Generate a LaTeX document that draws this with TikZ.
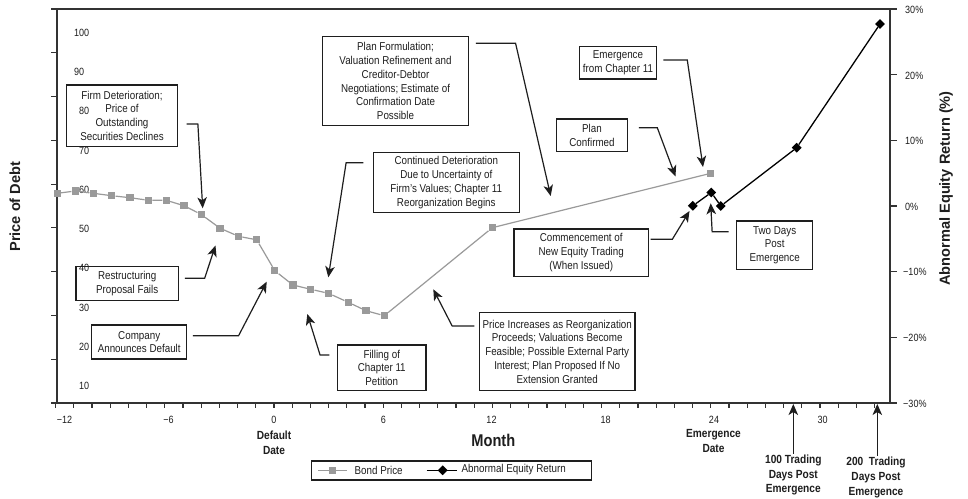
\documentclass[tikz,border=0pt]{standalone}
\usepackage{fontspec}
\setmainfont[FakeStretch=0.86]{Liberation Sans}
\newfontfamily\titlefont{Liberation Sans}
\usetikzlibrary{arrows.meta,shapes.geometric}
\definecolor{ink}{HTML}{1E1E1E}
\definecolor{axisgray}{HTML}{333333}
\definecolor{bondgray}{HTML}{9A9A9A}
\begin{document}
\begin{tikzpicture}[x=1pt,y=-1pt,
  ann/.style={draw=ink, line width=1.15pt, align=center, inner sep=0pt,
    font=\fontsize{11.4}{13.8}\selectfont, text=ink},
  conn/.style={draw=ink, line width=1.2pt, -{Stealth[length=11pt,width=9.5pt,inset=3pt]}},
  axisline/.style={draw=axisgray, line width=1.7pt},
  tickline/.style={draw=axisgray, line width=1.1pt},
  bondline/.style={draw=bondgray, line width=1.2pt},
  eqline/.style={draw=black, line width=1.3pt},
  sqmark/.style={fill=bondgray, rectangle, minimum size=7.3pt, inner sep=0pt, draw=none},
  diamark/.style={fill=black, diamond, minimum width=10pt, minimum height=10pt, inner sep=0pt, draw=none},
  ticklab/.style={font=\fontsize{10.5}{12}\selectfont, text=ink, inner sep=0pt},
  boldlab/.style={font=\fontsize{11.8}{14.6}\selectfont\bfseries, align=center, text=ink, inner sep=0pt},
  titlelab/.style={font=\titlefont\fontsize{14.6}{16}\selectfont\bfseries, text=ink, inner sep=0pt}
]
\useasboundingbox (0,0) rectangle (968,498);
\fill[white] (0,0) rectangle (968,498);

% ---------- axes ----------
\draw[axisline] (57,9) -- (890,9);
\draw[axisline] (57,8) -- (57,403);
\draw[axisline] (890,8) -- (890,403);
\draw[axisline] (51,403) -- (897,403);
\foreach \yy in {9,52.8,96.6,140.3,184.1,227.9,271.7,315.4,359.2}
  \draw[tickline] (51,\yy) -- (57,\yy);
\foreach \yy in {9,74.7,140.3,206,271.7,337.3}
  \draw[tickline] (890,\yy) -- (897,\yy);
\foreach \m in {-12,...,33}
  \draw[tickline] ({274+18.2*\m},403) -- ({274+18.2*\m},408);

% ---------- left tick labels ----------
\node[ticklab, anchor=west] (l100) at (74,33.3) {100};
\node[ticklab, anchor=west] (l90) at (74,72.3) {90};
\node[ticklab, anchor=west] (l80) at (79,111) {80};
\node[ticklab, anchor=west] (l70) at (79,151) {70};
\node[ticklab, anchor=west] (l60) at (79,190) {60};
\node[ticklab, anchor=west] (l50) at (79,229.3) {50};
\node[ticklab, anchor=west] (l40) at (79,268.3) {40};
\node[ticklab, anchor=west] (l30) at (79,308.3) {30};
\node[ticklab, anchor=west] (l20) at (79,346.7) {20};
\node[ticklab, anchor=west] (l10) at (79,386) {10};

% ---------- right tick labels ----------
\node[ticklab, anchor=west] (r30) at (905,10) {30\%};
\node[ticklab, anchor=west] (r20) at (905,75.5) {20\%};
\node[ticklab, anchor=west] (r10) at (905,141) {10\%};
\node[ticklab, anchor=west] (r0) at (905,206.5) {0\%};
\node[ticklab, anchor=west] (rm10) at (903,272.3) {−10\%};
\node[ticklab, anchor=west] (rm20) at (903,338) {−20\%};
\node[ticklab, anchor=west] (rm30) at (903,403.7) {−30\%};

% ---------- bottom tick labels ----------
\node[ticklab] (xm12) at (64.5,420) {−12};
\node[ticklab] (xm6) at (168.5,420) {−6};
\node[ticklab] (x0) at (274,420) {0};
\node[ticklab] (x6) at (383.3,420) {6};
\node[ticklab] (x12) at (491.5,420) {12};
\node[ticklab] (x18) at (605.7,420) {18};
\node[ticklab] (x24) at (714,420) {24};
\node[ticklab] (x30) at (822.7,420) {30};

\node[boldlab] (dd) at (274,442.5) {Default\\Date};
\node[boldlab] (ed) at (713.5,441) {Emergence\\Date};
\node[boldlab] (t100) at (793.3,475) {100 Trading\\Days Post\\Emergence};
\node[boldlab] (t200) at (876,477.5) {200~~Trading\\Days Post\\Emergence};
\node[font=\fontsize{17}{20}\selectfont\bfseries, text=ink, inner sep=0pt] (month) at (493.3,440) {Month};

\node[titlelab, rotate=90] (ytl) at (15,206.7) {Price of Debt};
\node[titlelab, rotate=90] (ytr) at (946,188.5) {Abnormal Equity Return (\%)};

% ---------- bond price ----------
\foreach \xx/\yy [count=\i] in {57.3/193.3, 75.3/191, 93.3/193.3, 111.7/195.7, 130/197.7,
  148.5/200.3, 166.3/200.3, 184/205.7, 201.3/214.5, 220/228.2, 238.5/236.3, 256.7/239.8,
  274.8/270.7, 292.9/285, 310.7/289.3, 328.5/293.3, 348.3/302.3, 366/310.7, 384.3/315.7,
  492.3/227.7, 710.8/173.3}
  \node[sqmark] (p\i) at (\xx,\yy) {};
\draw[bondline] (p1) -- (p2) -- (p3) -- (p4) -- (p5) -- (p6) -- (p7) -- (p8) -- (p9)
  -- (p10) -- (p11) -- (p12) -- (p13) -- (p14) -- (p15) -- (p16) -- (p17) -- (p18)
  -- (p19) -- (p20) -- (p21);

% ---------- equity return ----------
\foreach \xx/\yy [count=\i] in {692.8/205.8, 711.3/192.5, 720.8/206, 796.7/147.7, 880/24}
  \node[diamark] (e\i) at (\xx,\yy) {};
\draw[eqline] (e1) -- (e2) -- (e3) -- (e4) -- (e5);

% ---------- annotation boxes ----------
\node[ann, minimum width=110.6pt, minimum height=61.7pt] (B1) at (122,115.8)
  {Firm Deterioration;\\Price of\\Outstanding\\Securities Declines};
\node[ann, minimum width=102.3pt, minimum height=34pt] (B2) at (127.2,283.7)
  {Restructuring\\Proposal Fails};
\node[ann, minimum width=95pt, minimum height=34pt] (B3) at (139.2,342)
  {Company\\Announces Default};
\node[ann, minimum width=88.3pt, minimum height=45.7pt] (B4) at (381.8,367.8)
  {Filling of\\Chapter 11\\Petition};
\node[ann, minimum width=146pt, minimum height=60pt] (B5) at (446.3,182.7)
  {Continued Deterioration\\Due to Uncertainty of\\Firm’s Values; Chapter 11\\Reorganization Begins};
\node[ann, minimum width=145.6pt, minimum height=89pt] (B6) at (395.5,81.2)
  {Plan Formulation;\\Valuation Refinement and\\Creditor-Debtor\\Negotiations; Estimate of\\Confirmation Date\\Possible};
\node[ann, minimum width=155.7pt, minimum height=78pt] (B7) at (557.2,351.7)
  {Price Increases as Reorganization\\Proceeds; Valuations Become\\Feasible; Possible External Party\\Interest; Plan Proposed If No\\Extension Granted};
\node[ann, minimum width=77.4pt, minimum height=32.3pt] (B8) at (618,62.8)
  {Emergence\\from Chapter 11};
\node[ann, minimum width=70.6pt, minimum height=32.7pt] (B9) at (592,135.3)
  {Plan\\Confirmed};
\node[ann, minimum width=134.3pt, minimum height=47.7pt] (B10) at (581.2,252.8)
  {Commencement of\\New Equity Trading\\(When Issued)};
\node[ann, minimum width=76pt, minimum height=48.3pt] (B11) at (774.7,245.2)
  {Two Days\\Post\\Emergence};

% ---------- arrow targets ----------
\coordinate (tA1) at (202.7,208.3);
\coordinate (tA2) at (215.5,245.5);
\coordinate (tA3) at (266.7,281.7);
\coordinate (tA4) at (307.3,314);
\coordinate (tA5) at (328.3,277.3);
\coordinate (tA6) at (550.7,196);
\coordinate (tA7) at (433.3,289.3);
\coordinate (tA8) at (703,167);
\coordinate (tA9) at (675.5,176.5);
\coordinate (tA10) at (689.5,211);
\coordinate (tA11) at (710.7,203.3);
\coordinate (tA12) at (793.3,404);
\coordinate (tA13) at (877.3,404);

% ---------- connectors ----------
\draw[conn] ([xshift=8.7pt,yshift=-8.2pt]B1.east) -- ++(11.3,0) -- (tA1);
\draw[conn] ([xshift=6pt,yshift=5.4pt]B2.east) -- ++(19.7,0) -- (tA2);
\draw[conn] ([xshift=5.6pt,yshift=6.3pt]B3.east) -- ++(45.7,0) -- (tA3);
\draw[conn] ([xshift=-7.7pt,yshift=12.8pt]B4.west) -- ++(-9.3,0) -- (tA4);
\draw[conn] ([xshift=-9.3pt,yshift=20pt]B5.west) -- ++(-17.3,0) -- (tA5);
\draw[conn] ([xshift=7pt,yshift=37.9pt]B6.east) -- ++(39.7,0) -- (tA6);
\draw[conn] ([xshift=-4.3pt,yshift=25.7pt]B7.west) -- ++(-22.3,0) -- (tA7);
\draw[conn] ([xshift=6pt,yshift=2.8pt]B8.east) -- ++(24,0) -- (tA8);
\draw[conn] ([xshift=11pt,yshift=7.6pt]B9.east) -- ++(18.4,0) -- (tA9);
\draw[conn] ([xshift=1.7pt,yshift=13.5pt]B10.east) -- ++(21.7,0) -- (tA10);
\draw[conn] ([xshift=-7.4pt,yshift=13.5pt]B11.west) -- ++(-16.6,0) -- (tA11);
\draw[conn] ([yshift=1pt]t100.north) -- (tA12);
\draw[conn] ([yshift=1pt,xshift=1.3pt]t200.north) -- (tA13);

% ---------- legend ----------
\node[draw=ink, line width=1.1pt, minimum width=280pt, minimum height=19pt, inner sep=0pt] (leg) at (451.7,470.5) {};
\draw[bondline] (318,470.3) -- (346.7,470.3);
\node[sqmark] (lsq) at (332.3,470.3) {};
\node[ticklab, font=\fontsize{11.4}{13}\selectfont, anchor=west] (lbond) at (354.5,470) {Bond Price};
\draw[eqline] (426.7,470.3) -- (456.7,470.3);
\node[diamark] (ldia) at (442.7,470.3) {};
\node[ticklab, font=\fontsize{11.4}{13}\selectfont, anchor=west] (leq) at (461.5,470) {Abnormal Equity Return};
\end{tikzpicture}
\end{document}
